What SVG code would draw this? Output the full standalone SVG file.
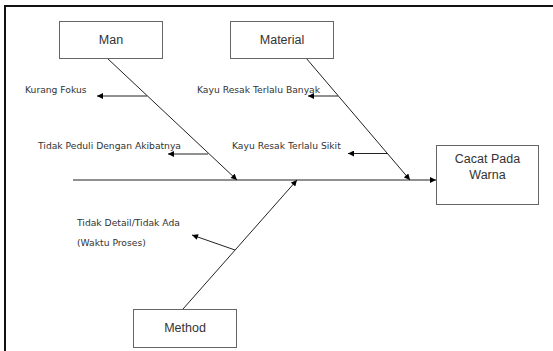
<svg xmlns="http://www.w3.org/2000/svg" width="553" height="351" viewBox="0 0 553 351">
<style>
.box{fill:#fff;stroke:#666;stroke-width:1}
.lbl{font-family:"Liberation Sans",Arial,sans-serif;font-size:12.5px;fill:#333;text-anchor:middle}
.cause{font-family:"DejaVu Sans",Verdana,sans-serif;font-size:9.2px;fill:#333}
.ln{stroke:#222;stroke-width:1;fill:none;marker-end:url(#ah)}
</style>
<defs>
<marker id="ah" viewBox="0 0 10 10" refX="10" refY="5" markerWidth="7" markerHeight="6" markerUnits="userSpaceOnUse" orient="auto">
<path d="M0,0 L10,5 L0,10 z" fill="#000"/>
</marker>
</defs>
<rect width="553" height="351" fill="#fff"/>
<g id="frame" stroke="#111" stroke-width="2">
<line x1="5" y1="6" x2="553" y2="6"/>
<line x1="5" y1="5" x2="5" y2="351"/>
</g>
<g id="connectors">
<line class="ln" x1="73" y1="180" x2="436" y2="180"/>
<line class="ln" x1="107" y1="58" x2="237" y2="180"/>
<line class="ln" x1="147" y1="96" x2="97" y2="96"/>
<line class="ln" x1="208" y1="154" x2="168" y2="154"/>
<line class="ln" x1="306" y1="58" x2="410" y2="180"/>
<line class="ln" x1="338" y1="96" x2="308" y2="96"/>
<line class="ln" x1="388" y1="153.5" x2="348" y2="153.5"/>
<line class="ln" x1="183" y1="309" x2="297" y2="180"/>
<line class="ln" x1="235" y1="250" x2="192" y2="235"/>
</g>
<g id="man">
<rect class="box" x="59.5" y="21.5" width="103" height="37"/>
<text class="lbl" x="111" y="44">Man</text>
</g>
<g id="material">
<rect class="box" x="230.5" y="21.5" width="103" height="37"/>
<text class="lbl" x="282" y="44">Material</text>
</g>
<g id="effect">
<rect class="box" x="436.5" y="145.5" width="102" height="59"/>
<text class="lbl" x="487.5" y="163">Cacat Pada</text>
<text class="lbl" x="487.5" y="179">Warna</text>
</g>
<g id="method">
<rect class="box" x="133.5" y="309.5" width="103" height="38"/>
<text class="lbl" x="185" y="332">Method</text>
</g>
<g id="causes">
<text class="cause" x="25" y="93">Kurang Fokus</text>
<text class="cause" x="38" y="149">Tidak Peduli Dengan Akibatnya</text>
<text class="cause" x="197" y="93">Kayu Resak Terlalu Banyak</text>
<text class="cause" x="232" y="149">Kayu Resak Terlalu Sikit</text>
<text class="cause" x="77" y="226">Tidak Detail/Tidak Ada</text>
<text class="cause" x="77" y="246">(Waktu Proses)</text>
</g>
</svg>
